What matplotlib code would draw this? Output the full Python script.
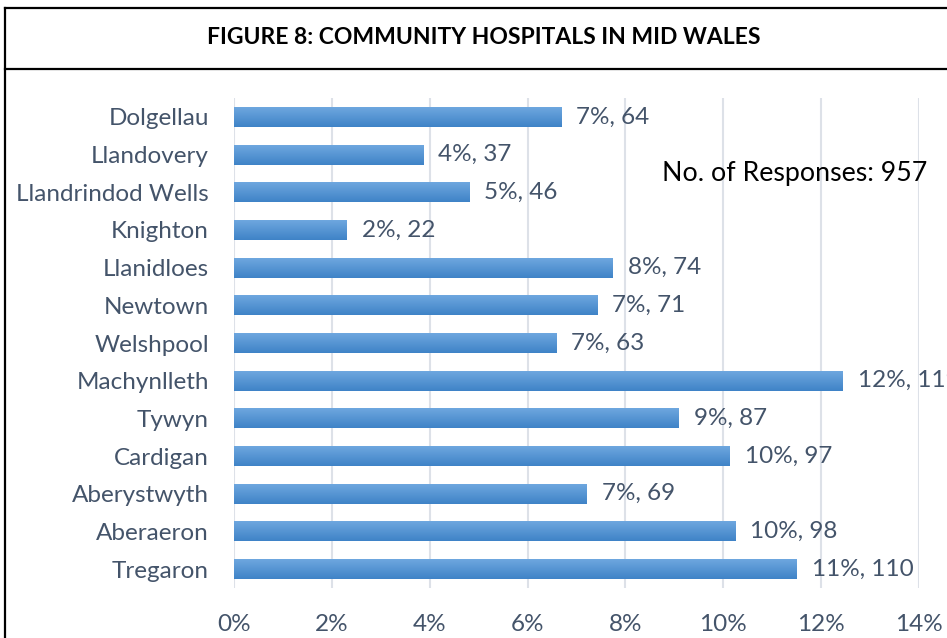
import numpy as np
import matplotlib
matplotlib.use("Agg")
import matplotlib.pyplot as plt
from matplotlib.colors import LinearSegmentedColormap
from matplotlib.lines import Line2D

# data
hospitals = ["Dolgellau", "Llandovery", "Llandrindod Wells", "Knighton", "Llanidloes",
             "Newtown", "Welshpool", "Machynlleth", "Tywyn", "Cardigan",
             "Aberystwyth", "Aberaeron", "Tregaron"]
counts = [64, 37, 46, 22, 74, 71, 63, 119, 87, 97, 69, 98, 110]
pct_labels = ["7%", "4%", "5%", "2%", "8%", "7%", "7%", "12%", "9%", "10%", "7%", "10%", "11%"]
total_responses = 957
x_ticks = [0, 2, 4, 6, 8, 10, 12, 14]

W, H = 947, 638
text_col = "#44546A"
font = "Lato"
fs = 17.5

fig = plt.figure(figsize=(W / 100, H / 100), dpi=100)
fig.patch.set_facecolor("white")

# frame around the figure, title strip
fig.add_artist(Line2D([5 / W, 5 / W], [0, 1 - 8 / H], transform=fig.transFigure, color="black", lw=1.6))
fig.add_artist(Line2D([5 / W, 1], [1 - 8 / H, 1 - 8 / H], transform=fig.transFigure, color="black", lw=1.6))
fig.add_artist(Line2D([5 / W, 1], [1 - 69 / H, 1 - 69 / H], transform=fig.transFigure, color="black", lw=1.6))
fig.text(484 / W, 1 - 38 / H, "FIGURE 8: COMMUNITY HOSPITALS IN MID WALES",
         ha="center", va="center", fontsize=16.5, fontweight="bold", family=font, color="black")

ax = fig.add_axes([234 / W, (H - 588) / H, (919 - 234) / W, (588 - 98) / H])
ax.set_facecolor("none")

share = [c / total_responses * 100 for c in counts]
ypos = np.arange(len(hospitals))[::-1]

cmap = LinearSegmentedColormap.from_list("bar", ["#3F83C7", "#6EA7DF"])
grad = np.linspace(0, 1, 64).reshape(-1, 1)
bar_h = 0.53
for y, s, c, p in zip(ypos, share, counts, pct_labels):
    ax.imshow(grad, cmap=cmap, aspect="auto", origin="lower",
              extent=[0, s, y - bar_h / 2, y + bar_h / 2], zorder=2, interpolation="bilinear")
    ax.text(s + 0.31, y, f"{p}, {c}", va="center", ha="left", fontsize=fs,
            family=font, color=text_col, clip_on=False)

ax.set_xlim(0, 14)
ax.set_ylim(-0.5, len(hospitals) - 0.5)
ax.set_xticks(x_ticks)
ax.set_xticklabels([f"{t}%" for t in x_ticks], fontsize=fs, family=font, color=text_col)
ax.set_yticks(ypos)
ax.set_yticklabels(hospitals, fontsize=fs, family=font, color=text_col)
ax.tick_params(axis="both", length=0)
ax.tick_params(axis="x", pad=19)
ax.tick_params(axis="y", pad=18)
ax.grid(axis="x", color="#DDE1E8", lw=1.5, zorder=0)
for sp in ax.spines.values():
    sp.set_visible(False)

fig.text(662 / W, 1 - 174 / H, "No. of Responses: 957", ha="left", va="center",
         fontsize=19.3, family=font, color="black")

fig.savefig("out.png", dpi=100)
